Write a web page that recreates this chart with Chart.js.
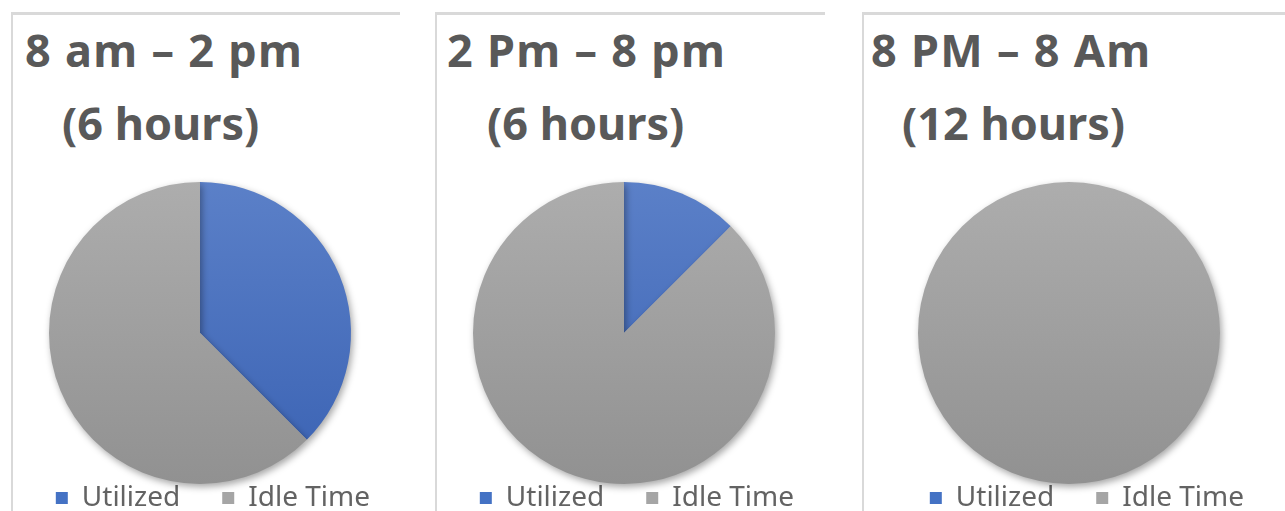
<!DOCTYPE html>
<html>
<head>
<meta charset="utf-8">
<script src="https://cdn.jsdelivr.net/npm/chart.js@4/dist/chart.umd.min.js"></script>
<style>
  html, body { margin:0; padding:0; background:#ffffff; }
  body { width:1285px; height:511px; overflow:hidden; position:relative; font-family:"Noto Sans", sans-serif; }
  .panel { position:absolute; top:12px; height:499px; border-left:2px solid #d9d9d9; border-top:3px solid #d9d9d9; box-sizing:border-box; }
  .title { position:absolute; font-family:"Noto Sans", sans-serif; font-weight:700; font-size:45px; line-height:45px; color:#595959; white-space:pre; }
  .t1 { letter-spacing:1.3px; }
  .chartbox { position:absolute; top:160px; width:380px; height:362px; }
</style>
</head>
<body>
<div id="root"></div>
<script>
// ---- data ----
const categories = ['Utilized', 'Idle Time'];
const titleLine1 = ['8 am \u2013 2 pm', '2 Pm \u2013 8 pm', '8 PM \u2013 8 Am'];
const titleLine2 = ['(6 hours)', '(6 hours)', '(12 hours)'];
const utilizedHours = [2.25, 0.75, 0];
const idleHours = [3.75, 5.25, 12];

// ---- layout / style (not data) ----
const panelLeft = [11, 435, 862];
const panelRight = [400, 825, 1285];
const pieCenterX = [200, 624, 1069];
const legendEndOffset = [170, 170, 175];
const title1X = [25, 447, 871];
const title2X = [62, 487, 902];
const blueTop = '#5b80c8', blueBottom = '#3a62b3';
const grayTop = '#adadad', grayBottom = '#919191';
const legendColors = ['#4472c4', '#a5a5a5'];

const root = document.getElementById('root');

function vGrad(context, c1, c2) {
  const chart = context.chart;
  const a = chart.chartArea;
  if (!a) return c1;
  const g = chart.ctx.createLinearGradient(0, a.top, 0, a.bottom);
  g.addColorStop(0, c1);
  g.addColorStop(1, c2);
  return g;
}

const shadowPlugin = {
  id: 'pieShadow',
  beforeDatasetsDraw(chart) {
    const ctx = chart.ctx;
    ctx.save();
    ctx.shadowColor = 'rgba(0,0,0,0.35)';
    ctx.shadowBlur = 7;
    ctx.shadowOffsetX = 2;
    ctx.shadowOffsetY = 3;
  },
  afterDatasetsDraw(chart) {
    chart.ctx.restore();
  }
};

for (let i = 0; i < 3; i++) {
  const p = document.createElement('div');
  p.className = 'panel';
  p.style.left = panelLeft[i] + 'px';
  p.style.width = (panelRight[i] - panelLeft[i]) + 'px';
  root.appendChild(p);

  const t1 = document.createElement('div');
  t1.className = 'title t1';
  t1.style.left = title1X[i] + 'px';
  t1.style.top = '27px';
  t1.textContent = titleLine1[i];
  root.appendChild(t1);

  const t2 = document.createElement('div');
  t2.className = 'title';
  t2.style.left = title2X[i] + 'px';
  t2.style.top = '100px';
  t2.textContent = titleLine2[i];
  root.appendChild(t2);

  const box = document.createElement('div');
  box.className = 'chartbox';
  box.style.left = (pieCenterX[i] - 190) + 'px';
  const cv = document.createElement('canvas');
  cv.width = 380; cv.height = 362;
  cv.style.width = '380px'; cv.style.height = '362px';
  box.appendChild(cv);
  root.appendChild(box);

  const side = 190 - legendEndOffset[i];

  new Chart(cv, {
    type: 'pie',
    data: {
      labels: categories,
      datasets: [{
        data: [utilizedHours[i], idleHours[i]],
        backgroundColor: (ctx) => ctx.dataIndex === 0 ? vGrad(ctx, blueTop, blueBottom) : vGrad(ctx, grayTop, grayBottom),
        borderWidth: 0,
        hoverOffset: 0
      }]
    },
    options: {
      responsive: false,
      animation: false,
      devicePixelRatio: 1,
      layout: { padding: { top: 22, bottom: 0, left: side, right: side } },
      plugins: {
        tooltip: { enabled: false },
        title: { display: false },
        legend: {
          display: true,
          position: 'bottom',
          align: 'end',
          labels: {
            boxWidth: 12,
            boxHeight: 12,
            padding: 0,
            color: '#636363',
            font: { family: 'Noto Sans', size: 28, weight: 'normal' },
            generateLabels(chart) {
              return categories.map((name, k) => ({
                text: name + (k === 0 ? '\u2003\u2002' : ''),
                fillStyle: legendColors[k],
                strokeStyle: legendColors[k],
                lineWidth: 0,
                hidden: false,
                index: k,
                fontColor: '#636363'
              }));
            }
          }
        }
      }
    },
    plugins: [shadowPlugin]
  });
}
</script>
</body>
</html>
